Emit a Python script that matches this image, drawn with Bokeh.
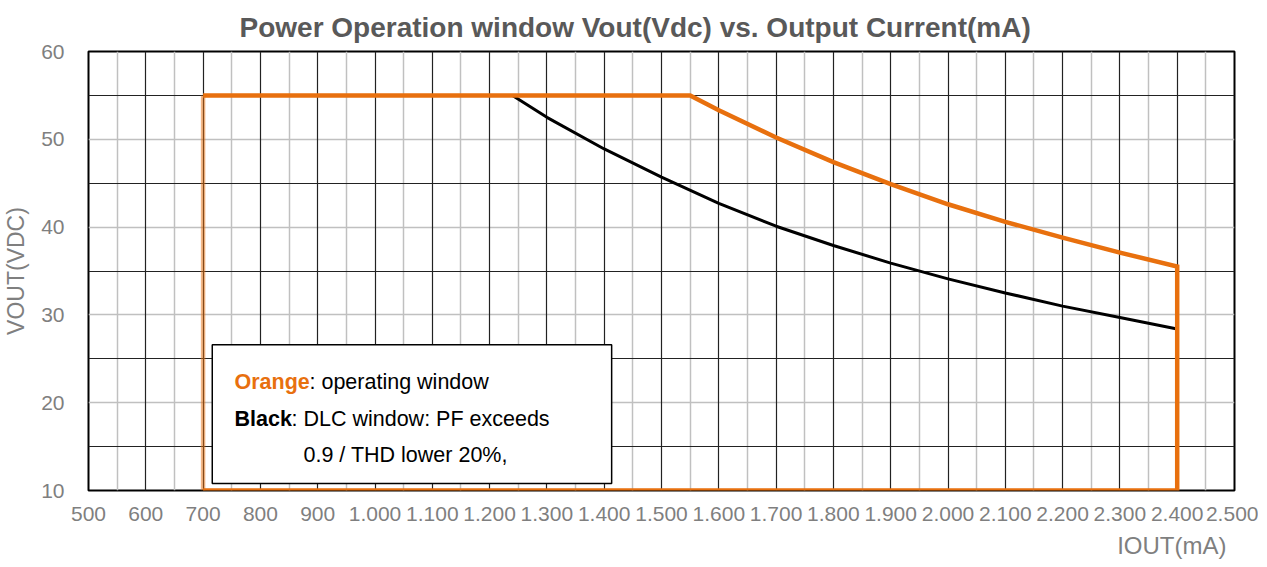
from bokeh.plotting import figure
from bokeh.models import Range1d, FixedTicker, Grid, Label, BoxAnnotation, Title
from bokeh.embed import file_html
from bokeh.resources import INLINE

# ---- data ----
x_ticks = [500, 600, 700, 800, 900, 1000, 1100, 1200, 1300, 1400, 1500,
           1600, 1700, 1800, 1900, 2000, 2100, 2200, 2300, 2400, 2500]
x_tick_labels = ["500", "600", "700", "800", "900", "1.000", "1.100", "1.200",
                 "1.300", "1.400", "1.500", "1.600", "1.700", "1.800", "1.900",
                 "2.000", "2.100", "2.200", "2.300", "2.400", "2.500"]
y_ticks = [10, 20, 30, 40, 50, 60]

# operating window (orange), traced clockwise from top-left corner
window_i = [700, 1550, 1600, 1700, 1800, 1900, 2000, 2100, 2200, 2300, 2400, 2400, 700]
window_v = [55, 55, 53.3, 50.2, 47.4, 44.9, 42.6, 40.6, 38.8, 37.1, 35.5, 10, 10]

# DLC window (black)
dlc_i = [1240, 1300, 1400, 1500, 1600, 1700, 1800, 1900, 2000, 2100, 2200, 2300, 2400]
dlc_v = [55, 52.5, 48.9, 45.7, 42.7, 40.1, 37.9, 35.9, 34.1, 32.5, 31.0, 29.7, 28.4]

TITLE = "Power Operation window Vout(Vdc) vs. Output Current(mA)"
XLABEL = "IOUT(mA)"
YLABEL = "VOUT(VDC)"

ORANGE = "#E8700E"
FONT = "Liberation Sans"
GRAY_TXT = "#7f7f7f"

p = figure(frame_width=1146, frame_height=439, output_backend="svg", toolbar_location=None,
           x_range=Range1d(500, 2500), y_range=Range1d(10, 60),
           min_border_left=80, min_border_right=24, min_border_top=45, min_border_bottom=69)

p.title.text = TITLE
p.title.align = "left"
p.title.offset = 151
p.title.text_font = FONT
p.title.text_font_size = "28px"
p.title.text_font_style = "bold"
p.title.text_color = "#595959"
p.title.standoff = 18

# axes
for ax in (p.xaxis[0], p.yaxis[0]):
    ax.axis_line_color = None
    ax.major_tick_line_color = None
    ax.minor_tick_line_color = None
    ax.major_label_text_font = FONT
    ax.major_label_text_font_size = "21px"
    ax.major_label_text_color = GRAY_TXT

p.xaxis.ticker = FixedTicker(ticks=x_ticks)
p.xaxis.major_label_overrides = {t: s for t, s in zip(x_ticks, x_tick_labels)}
p.xaxis.major_label_standoff = 10

p.yaxis.ticker = FixedTicker(ticks=y_ticks)
p.yaxis.major_label_standoff = 18
p.yaxis.axis_label = YLABEL
p.yaxis.axis_label_text_font = FONT
p.yaxis.axis_label_text_font_size = "23px"
p.yaxis.axis_label_text_font_style = "normal"
p.yaxis.axis_label_text_color = GRAY_TXT
p.yaxis.axis_label_standoff = 9

xl = Title(text=XLABEL, align="right", text_font=FONT, text_font_size="24px",
           text_font_style="normal", text_color=GRAY_TXT, offset=8, standoff=13)
p.add_layout(xl, "below")

# grids
p.xgrid.visible = False
p.ygrid.visible = False
x_black = list(range(500, 2501, 100))
x_gray = list(range(550, 2500, 100))
y_black = [15, 25, 35, 45, 55]
y_gray = [20, 30, 40, 50]
p.add_layout(Grid(dimension=0, ticker=FixedTicker(ticks=x_gray),
                  grid_line_color="#c0c0c0", grid_line_width=1.5))
p.add_layout(Grid(dimension=1, ticker=FixedTicker(ticks=y_gray),
                  grid_line_color="#c0c0c0", grid_line_width=1.5))
p.add_layout(Grid(dimension=0, ticker=FixedTicker(ticks=x_black),
                  grid_line_color="#222222", grid_line_width=1.2))
p.add_layout(Grid(dimension=1, ticker=FixedTicker(ticks=y_black),
                  grid_line_color="#222222", grid_line_width=1.2))

p.outline_line_color = "black"
p.outline_line_width = 2
p.background_fill_color = "white"
p.border_fill_color = "white"

# lines
p.line(dlc_i, dlc_v, line_color="black", line_width=3)
p.line(window_i, window_v, line_color=ORANGE, line_width=4.5, line_join="miter")
p.line([window_i[-1], window_i[0]], [window_v[-1], window_v[0]],
       line_color=ORANGE, line_width=4.5, line_alpha=0.5)

# legend box
box = BoxAnnotation(left=716, right=1413, bottom=10.8, top=26.6,
                    fill_color="white", fill_alpha=1.0,
                    line_color="black", line_width=1.5, line_alpha=1.0)
p.add_layout(box)

def lab(x, y, text, color="black", style="normal", xoff=0):
    p.add_layout(Label(x=x, y=y, text=text, x_offset=xoff,
                       text_font=FONT, text_font_size="21.5px", text_font_style=style,
                       text_color=color, text_baseline="middle", text_align="left"))

lab(754.8, 22.4, "Orange", ORANGE, "bold")
lab(754.8, 22.4, ": operating window", xoff=75)
lab(754.8, 18.2, "Black", "black", "bold")
lab(754.8, 18.2, ": DLC window: PF exceeds", xoff=57)
lab(875.2, 14.0, "0.9 / THD lower 20%,")

open("out.html", "w").write(file_html(p, INLINE))
